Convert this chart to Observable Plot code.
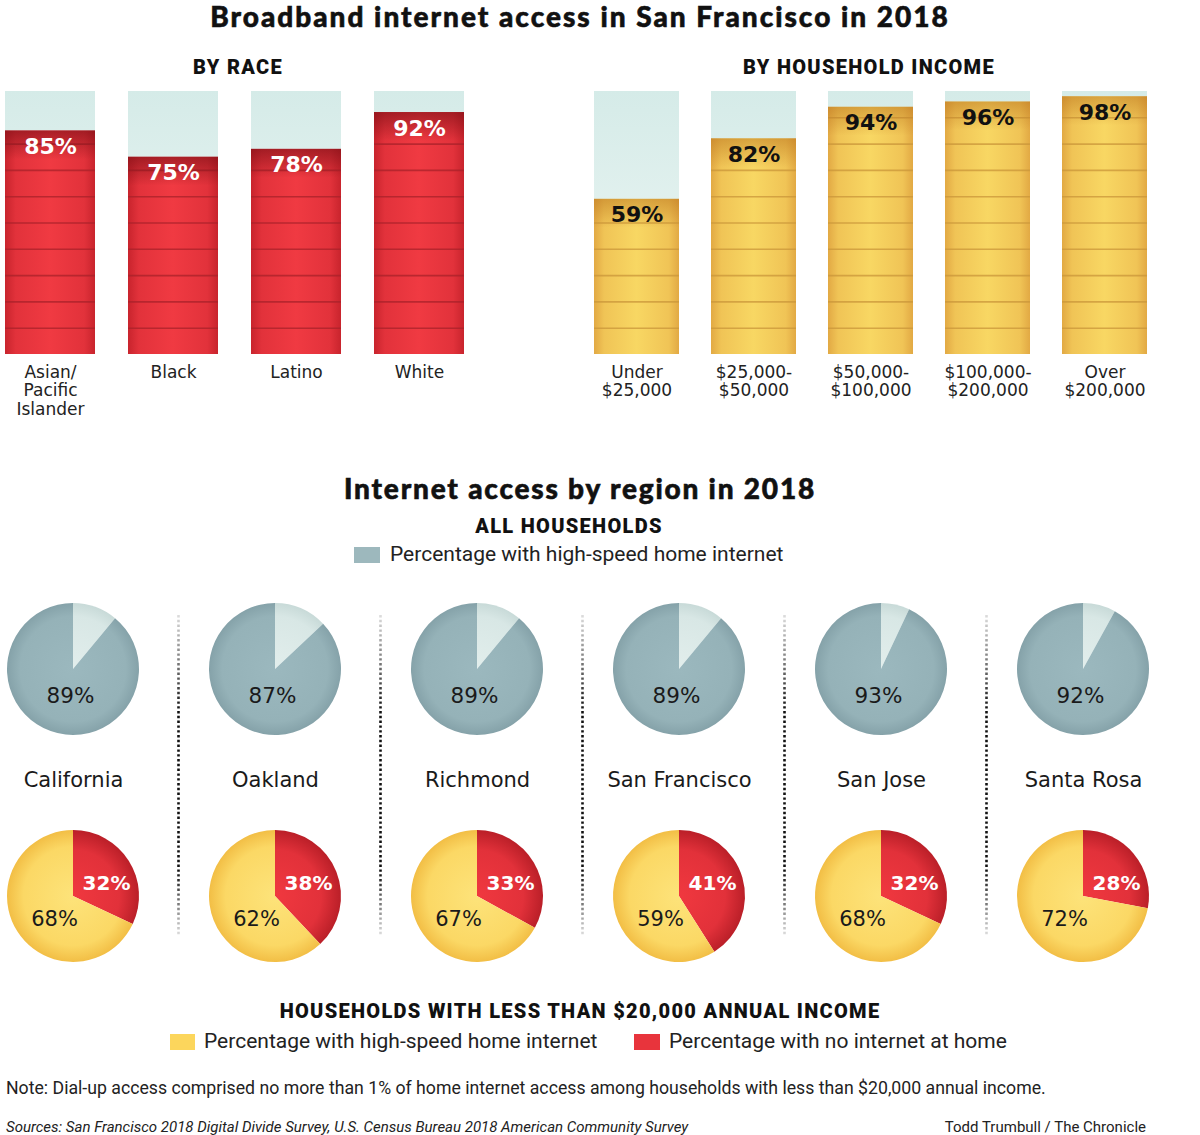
<!DOCTYPE html>
<html><head><meta charset="utf-8">
<script src="https://cdn.jsdelivr.net/npm/d3@7"></script>
<script src="https://cdn.jsdelivr.net/npm/@observablehq/plot@0.6"></script>
<style>
body{margin:0;background:#fff;}
#page{position:relative;width:1200px;height:1135px;overflow:hidden;font-family:Roboto,sans-serif;color:#1a1a1a;}
.abs{position:absolute;white-space:nowrap;line-height:1.2;}
.c{transform:translate(-50%,-50%);}
.l{transform:translateY(-50%);}
.r{transform:translate(-100%,-50%);}
.title{font-family:Lato,sans-serif;font-weight:900;font-size:28px;color:#111;letter-spacing:2px;line-height:1;-webkit-text-stroke:0.6px #111;}
.head{font-family:Roboto,sans-serif;font-weight:900;font-size:20px;letter-spacing:1.3px;color:#111;}
.leg{font-family:Roboto,sans-serif;font-size:21px;color:#222;}
.sw{position:absolute;width:26px;height:16px;}
.chart{position:absolute;}
</style></head>
<body><div id="page">
<div class="abs c title" style="left:580px;top:16px">Broadband internet access in San Francisco in 2018</div>
<div class="abs c head" style="left:238px;top:67px">BY RACE</div>
<div class="abs c head" style="left:869px;top:67px">BY HOUSEHOLD INCOME</div>
<div id="race" class="chart" style="left:0;top:80px"></div>
<div id="income" class="chart" style="left:585px;top:80px"></div>
<div class="abs c title" style="left:580px;top:488px;letter-spacing:1.8px">Internet access by region in 2018</div>
<div class="abs c head" style="left:569px;top:526px">ALL HOUSEHOLDS</div>
<div class="sw" style="left:354px;top:547px;background:#9DB8BD"></div>
<div class="abs l leg" style="left:390px;top:555px">Percentage with high-speed home internet</div>
<div id="pies" class="chart" style="left:0;top:595px"></div>
<div class="abs c head" style="left:580px;top:1011px">HOUSEHOLDS WITH LESS THAN $20,000 ANNUAL INCOME</div>
<div class="sw" style="left:170px;top:1034px;width:25px;background:#FCD65C"></div>
<div class="abs l leg" style="left:204px;top:1042px">Percentage with high-speed home internet</div>
<div class="sw" style="left:634px;top:1034px;background:#E8343C"></div>
<div class="abs l leg" style="left:669px;top:1042px">Percentage with no internet at home</div>
<div class="abs l" style="left:6px;top:1089px;font-size:17.7px;color:#222">Note: Dial-up access comprised no more than 1% of home internet access among households with less than $20,000 annual income.</div>
<div class="abs l" style="left:6px;top:1127px;font-size:15px;font-style:italic;color:#222">Sources: San Francisco 2018 Digital Divide Survey, U.S. Census Bureau 2018 American Community Survey</div>
<div class="abs r" style="left:1146px;top:1127px;font-size:15px;color:#222">Todd Trumbull / The Chronicle</div>
</div>
<script>
// ---- data ----
const raceCategories = ["Asian/\nPacific\nIslander", "Black", "Latino", "White"];
const raceValues = [85, 75, 78, 92];
const incomeCategories = ["Under\n$25,000", "$25,000-\n$50,000", "$50,000-\n$100,000", "$100,000-\n$200,000", "Over\n$200,000"];
const incomeValues = [59, 82, 94, 96, 98];
const stripeLevels = [10, 20, 30, 40, 50, 60, 70, 80, 90];
const cities = ["California", "Oakland", "Richmond", "San Francisco", "San Jose", "Santa Rosa"];
const allHighSpeed = [89, 87, 89, 89, 93, 92];
const lowIncomeHighSpeed = [68, 62, 67, 59, 68, 72];
const lowIncomeNoInternet = [32, 38, 33, 41, 32, 28];

const SVGNS = "http://www.w3.org/2000/svg";
function addDefs(svg, html) {
  const defs = document.createElementNS(SVGNS, "defs");
  defs.innerHTML = html;
  svg.insertBefore(defs, svg.firstChild);
}

const commonDefs = `
<linearGradient id="bgFill" x1="0" y1="0" x2="0" y2="1">
  <stop offset="0" stop-color="#D5EBE8"/><stop offset="1" stop-color="#F1F8F6"/>
</linearGradient>
<linearGradient id="redFill" x1="0" y1="0" x2="1" y2="0">
  <stop offset="0" stop-color="#C8242D"/><stop offset="0.12" stop-color="#E2323B"/>
  <stop offset="0.5" stop-color="#F03A42"/><stop offset="0.88" stop-color="#E2323B"/>
  <stop offset="1" stop-color="#C8242D"/>
</linearGradient>
<linearGradient id="redTop" x1="0" y1="0" x2="0" y2="1">
  <stop offset="0" stop-color="#6E0A10" stop-opacity="0.55"/><stop offset="1" stop-color="#6E0A10" stop-opacity="0"/>
</linearGradient>
<linearGradient id="yelFill" x1="0" y1="0" x2="1" y2="0">
  <stop offset="0" stop-color="#E2A944"/><stop offset="0.12" stop-color="#F0C456"/>
  <stop offset="0.5" stop-color="#F8D763"/><stop offset="0.88" stop-color="#F0C456"/>
  <stop offset="1" stop-color="#E2A944"/>
</linearGradient>
<linearGradient id="yelTop" x1="0" y1="0" x2="0" y2="1">
  <stop offset="0" stop-color="#B8701A" stop-opacity="0.5"/><stop offset="1" stop-color="#B8701A" stop-opacity="0"/>
</linearGradient>`;

function barChart(el, categories, values, opts) {
  const data = categories.map((c, i) => ({category: c, value: values[i]}));
  const stripes = data.flatMap(d => stripeLevels.filter(t => t < d.value - 2).map(t => ({category: d.category, level: t})));
  const svg = Plot.plot({
    width: opts.width, height: 344,
    marginTop: 11, marginBottom: 70, marginLeft: opts.marginLeft, marginRight: opts.marginRight,
    style: {fontFamily: "'DejaVu Sans', sans-serif", background: "transparent"},
    x: {domain: categories, paddingInner: opts.padding, paddingOuter: 0, label: null},
    y: {domain: [0, 100], axis: null},
    marks: [
      Plot.barY(data, {x: "category", y: 100, fill: "url(#bgFill)"}),
      Plot.barY(data, {x: "category", y: "value", fill: opts.fill}),
      Plot.tickY(stripes, {x: "category", y: "level", stroke: opts.stripe, strokeWidth: 1.6, strokeOpacity: 0.75}),
      Plot.barY(data, {x: "category", y1: d => d.value - 11, y2: "value", fill: opts.top}),
      Plot.text(data, {x: "category", y: "value", text: d => d.value + "%", dy: 16,
        fill: opts.labelColor, fontSize: 22, fontWeight: "bold", fontFamily: "'DejaVu Sans', sans-serif"}),
      Plot.axisX({tickSize: 0, tickPadding: 10, fontSize: 17, fill: "#222", lineHeight: 1.1, label: null})
    ]
  });
  addDefs(svg, commonDefs);
  document.getElementById(el).appendChild(svg);
}

barChart("race", raceCategories, raceValues, {
  width: 470, marginLeft: 4, marginRight: 5, padding: 0.272,
  fill: "url(#redFill)", top: "url(#redTop)", stripe: "#A8222A", labelColor: "#fff"
});
barChart("income", incomeCategories, incomeValues, {
  width: 615, marginLeft: 8, marginRight: 53, padding: 0.275,
  fill: "url(#yelFill)", top: "url(#yelTop)", stripe: "#C9963A", labelColor: "#111"
});

// ---- pies ----
const PIE_R = 66;
const region = cities.map((city, i) => ({city, all: allHighSpeed[i], high: lowIncomeHighSpeed[i], none: lowIncomeNoInternet[i]}));
const slices = region.flatMap(d => [
  {city: d.city, row: "all", start: 0, end: (100 - d.all) / 100, fill: "url(#pieLight)"},
  {city: d.city, row: "all", start: (100 - d.all) / 100, end: 1, fill: "url(#pieBlue)"},
  {city: d.city, row: "low", start: 0, end: d.none / 100, fill: "url(#pieRed)"},
  {city: d.city, row: "low", start: d.none / 100, end: (d.none + d.high) / 100, fill: "url(#pieYellow)"}
]);

const pieMark = Plot.dot(slices, {
  x: "city", y: "row",
  render(index, scales, values) {
    const g = d3.create("svg:g");
    const arc = d3.arc().innerRadius(0).outerRadius(PIE_R);
    for (const i of index) {
      const d = slices[i];
      g.append("path")
        .attr("transform", `translate(${values.x[i]},${values.y[i]})`)
        .attr("d", arc({startAngle: d.start * 2 * Math.PI, endAngle: d.end * 2 * Math.PI}))
        .attr("fill", d.fill);
    }
    return g.node();
  }
});

const pieSvg = Plot.plot({
  width: 1200, height: 375,
  marginTop: 74, marginBottom: 74, marginLeft: 72, marginRight: 117,
  style: {fontFamily: "'DejaVu Sans', sans-serif", background: "transparent", overflow: "visible"},
  x: {type: "point", domain: cities, padding: 0, axis: null},
  y: {type: "point", domain: ["all", "low"], padding: 0, axis: null},
  marks: [
    Plot.ruleX(cities.slice(0, -1), {x: d => d, dx: 105, insetTop: -54, insetBottom: -39,
      stroke: "url(#dotGrad)", strokeWidth: 2.6, strokeDasharray: "2.4 2.4"}),
    pieMark,
    Plot.text(region, {x: "city", y: () => "all", text: d => d.all + "%", dx: -3, dy: 27,
      fontSize: 21.5, fill: "#1a1a1a"}),
    Plot.text(region, {x: "city", y: () => "all", text: "city", dy: 111, fontSize: 21, fill: "#1a1a1a"}),
    Plot.text(region, {x: "city", y: () => "low", text: d => d.none + "%", dx: 33, dy: -13,
      fontSize: 20, fontWeight: "bold", fill: "#fff"}),
    Plot.text(region, {x: "city", y: () => "low", text: d => d.high + "%", dx: -19, dy: 23,
      fontSize: 21, fill: "#1a1a1a"})
  ]
});
addDefs(pieSvg, `
<radialGradient id="pieBlue" gradientUnits="userSpaceOnUse" cx="0" cy="0" r="${PIE_R}">
  <stop offset="0" stop-color="#9BB8BE"/><stop offset="0.8" stop-color="#95B2B8"/><stop offset="1" stop-color="#85A2A9"/>
</radialGradient>
<radialGradient id="pieLight" gradientUnits="userSpaceOnUse" cx="0" cy="0" r="${PIE_R}">
  <stop offset="0" stop-color="#E2EEEC"/><stop offset="0.8" stop-color="#D8E7E5"/><stop offset="1" stop-color="#C8DAD8"/>
</radialGradient>
<radialGradient id="pieRed" gradientUnits="userSpaceOnUse" cx="0" cy="0" r="${PIE_R}">
  <stop offset="0" stop-color="#F0383F"/><stop offset="0.7" stop-color="#E2313A"/><stop offset="1" stop-color="#BA1F28"/>
</radialGradient>
<radialGradient id="pieYellow" gradientUnits="userSpaceOnUse" cx="0" cy="0" r="${PIE_R}">
  <stop offset="0" stop-color="#FDE37A"/><stop offset="0.75" stop-color="#FBD865"/><stop offset="1" stop-color="#F2BE45"/>
</radialGradient>
<linearGradient id="dotGrad" gradientUnits="userSpaceOnUse" x1="0" y1="20" x2="0" y2="340">
  <stop offset="0" stop-color="#DDDDDD"/><stop offset="0.3" stop-color="#111"/>
  <stop offset="0.8" stop-color="#111"/><stop offset="1" stop-color="#DDDDDD"/>
</linearGradient>`);
document.getElementById("pies").appendChild(pieSvg);
</script>
</body></html>
